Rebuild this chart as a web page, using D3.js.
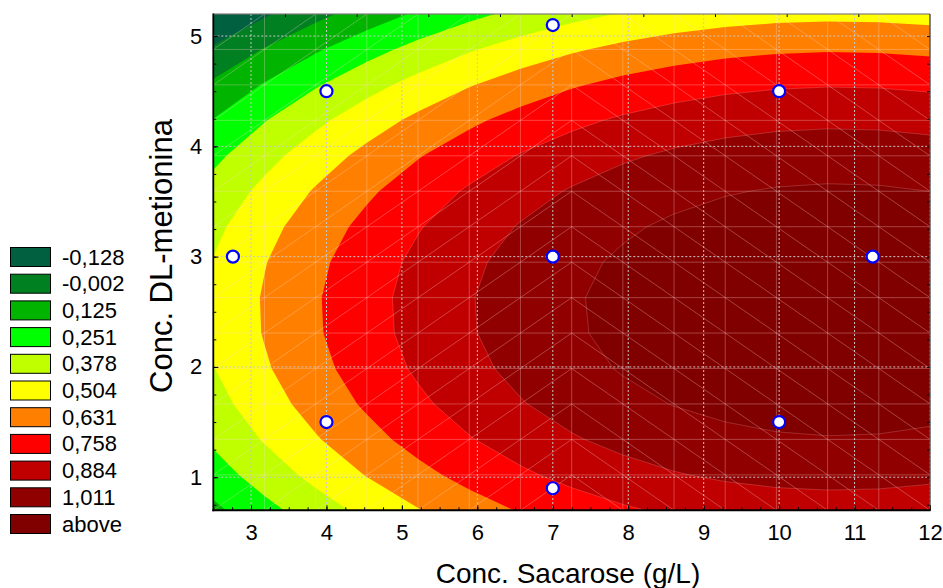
<!DOCTYPE html>
<html><head><meta charset="utf-8">
<script src="https://cdn.jsdelivr.net/npm/d3@7"></script>
<style>
body{margin:0;background:#fff}
text{font-family:"Liberation Sans",Arial,Helvetica,sans-serif;fill:#000}
</style>
</head><body><svg id="chart" width="943" height="588"></svg>
<script>
// ---- data ----
const xDesign = [4, 4, 10, 10, 2.76, 11.24, 7, 7, 7];
const yDesign = [1.5, 4.5, 1.5, 4.5, 3, 3, 0.9, 5.1, 3];
// fitted quadratic response surface: b0, bX, bY, bXX, bYY, bXY
const surfaceCoef = [-0.6921, 0.2305, 0.4627, -0.0107, -0.0918, 0];
const xDomain = [2.5, 12];
const yDomain = [0.7, 5.2];
const meshCount = 15;
const levels = [-0.128, -0.002, 0.125, 0.251, 0.378, 0.504, 0.631, 0.758, 0.884, 1.011];
const legendLabels = ["-0,128","-0,002","0,125","0,251","0,378","0,504","0,631","0,758","0,884","1,011","above"];
const bandColors = ["#006040","#008020","#00b400","#00ff00","#c0ff00","#ffff00","#ff8000","#ff0000","#c00000","#900000","#800000"];
const xTicks = [3, 4, 5, 6, 7, 8, 9, 10, 11, 12];
const yTicks = [1, 2, 3, 4, 5];
const topTicks = [3.45, 4.4, 5.35, 6.3, 7.25, 8.2, 9.15, 10.1, 11.05];
const xTitle = "Conc. Sacarose (g/L)";
const yTitle = "Conc. DL-metionina";

// ---- layout ----
const P = {left: 213.3, right: 930, top: 14, bottom: 510.3};
const svg = d3.select("#chart");
const xs = d3.scaleLinear().domain(xDomain).range([P.left, P.right]);
const ys = d3.scaleLinear().domain(yDomain).range([P.bottom, P.top]);

svg.append("defs").append("clipPath").attr("id", "plotClip")
  .append("rect").attr("x", P.left).attr("y", P.top)
  .attr("width", P.right - P.left).attr("height", P.bottom - P.top);

// ---- surface grid (mesh plus one padding sample on every side) ----
const f = (x, y) => {
  const [b0, bx, by, bxx, byy, bxy] = surfaceCoef;
  return b0 + bx * x + by * y + bxx * x * x + byy * y * y + bxy * x * y;
};
const dx = (xDomain[1] - xDomain[0]) / (meshCount - 1);
const dy = (yDomain[1] - yDomain[0]) / (meshCount - 1);
const n = meshCount + 2;
const values = new Array(n * n);
for (let j = 0; j < n; j++) for (let i = 0; i < n; i++) {
  values[i + j * n] = f(xDomain[0] + (i - 1) * dx, yDomain[0] + (j - 1) * dy);
}
const contours = d3.contours().size([n, n]).thresholds(levels)(values);
const proj = d3.geoTransform({
  point: function(cx, cy) {
    this.stream.point(xs(xDomain[0] + (cx - 1.5) * dx), ys(yDomain[0] + (cy - 1.5) * dy));
  }
});
const path = d3.geoPath(proj);

const plot = svg.append("g").attr("clip-path", "url(#plotClip)");
plot.append("rect").attr("x", P.left).attr("y", P.top)
  .attr("width", P.right - P.left).attr("height", P.bottom - P.top)
  .attr("fill", bandColors[0]);
plot.selectAll("path.band").data(contours).join("path")
  .attr("class", "band")
  .attr("d", path)
  .attr("fill", (d, i) => bandColors[i + 1])
  .attr("stroke", (d, i) => i >= 7 ? "rgba(255,210,210,0.25)" : "none")
  .attr("stroke-width", 0.8);

// ---- mesh lines ----
const meshX = d3.range(meshCount).map(k => xDomain[0] + k * dx);
const meshY = d3.range(meshCount).map(k => yDomain[0] + k * dy);
const mesh = plot.append("g").attr("stroke", "rgba(255,215,215,0.3)").attr("stroke-width", 1).attr("fill", "none");
meshX.forEach(x => mesh.append("line").attr("x1", xs(x)).attr("x2", xs(x)).attr("y1", P.top).attr("y2", P.bottom));
meshY.forEach(y => mesh.append("line").attr("x1", P.left).attr("x2", P.right).attr("y1", ys(y)).attr("y2", ys(y)));
const half = Math.floor(meshCount / 2);
for (let c = 0; c < meshCount - 1; c++) {
  for (let r = 0; r < meshCount - 1; r++) {
    const xa = xs(meshX[c]), xb = xs(meshX[c + 1]);
    const ylo = ys(meshY[r]), yhi = ys(meshY[r + 1]);
    if (c < half) mesh.append("line").attr("x1", xa).attr("y1", ylo).attr("x2", xb).attr("y2", yhi);
    else mesh.append("line").attr("x1", xa).attr("y1", yhi).attr("x2", xb).attr("y2", ylo);
  }
}

// ---- dotted grid ----
const grid = plot.append("g").attr("stroke", "#c8c8c8").attr("stroke-width", 1).attr("stroke-dasharray", "2,2");
xTicks.forEach(x => grid.append("line").attr("x1", xs(x)).attr("x2", xs(x)).attr("y1", P.top).attr("y2", P.bottom));
yTicks.forEach(y => grid.append("line").attr("x1", P.left).attr("x2", P.right).attr("y1", ys(y)).attr("y2", ys(y)));

// ---- axes ----
const minorX = d3.range(xDomain[0], xDomain[1] + 1e-9, 0.25);
const minorY = d3.range(0.75, yDomain[1], 0.25);
function styleAxis(g) {
  g.select(".domain").remove();
  g.selectAll("line").attr("stroke", "#000");
  g.selectAll("text").attr("font-size", 22).attr("font-family", '"Liberation Sans",Arial,sans-serif').attr("fill", "#000");
  g.attr("font-size", null).attr("font-family", null);
}
svg.append("g").attr("transform", `translate(0,${P.bottom})`)
  .call(d3.axisBottom(xs).tickValues(minorX).tickSize(-3).tickFormat("")).call(styleAxis);
svg.append("g").attr("transform", `translate(0,${P.bottom})`)
  .call(d3.axisBottom(xs).tickValues(xTicks).tickSizeInner(-5).tickSizeOuter(0).tickPadding(14).tickFormat(d3.format("d"))).call(styleAxis);
svg.append("g").attr("transform", `translate(${P.left},0)`)
  .call(d3.axisLeft(ys).tickValues(minorY).tickSize(-3).tickFormat("")).call(styleAxis);
svg.append("g").attr("transform", `translate(${P.left},0)`)
  .call(d3.axisLeft(ys).tickValues(yTicks).tickSizeInner(-5).tickSizeOuter(0).tickPadding(11).tickFormat(d3.format("d"))).call(styleAxis);
svg.append("g").attr("transform", `translate(0,${P.top})`)
  .call(d3.axisTop(xs).tickValues(topTicks).tickSize(-3).tickFormat("")).call(styleAxis);
svg.append("g").attr("transform", `translate(${P.right},0)`)
  .call(d3.axisRight(ys).tickValues(minorY).tickSize(-3).tickFormat("")).call(styleAxis);

// frame
svg.append("line").attr("x1", P.left).attr("x2", P.right).attr("y1", P.top).attr("y2", P.top).attr("stroke", "#666").attr("stroke-width", 1.2);
svg.append("line").attr("x1", P.right).attr("x2", P.right).attr("y1", P.top).attr("y2", P.bottom).attr("stroke", "#333").attr("stroke-width", 1.2);
svg.append("line").attr("x1", P.left).attr("x2", P.left).attr("y1", P.top - 0.5).attr("y2", P.bottom + 1).attr("stroke", "#000").attr("stroke-width", 1.8);
svg.append("line").attr("x1", P.left - 1).attr("x2", P.right + 0.5).attr("y1", P.bottom).attr("y2", P.bottom).attr("stroke", "#000").attr("stroke-width", 2);

// ---- design points ----
svg.append("g").selectAll("circle").data(xDesign.map((x, i) => [x, yDesign[i]])).join("circle")
  .attr("cx", d => xs(d[0])).attr("cy", d => ys(d[1])).attr("r", 6)
  .attr("fill", "#fff").attr("stroke", "#0000ff").attr("stroke-width", 2.2);

// ---- titles ----
svg.append("text").attr("x", 568).attr("y", 583).attr("text-anchor", "middle")
  .attr("font-size", 28).text(xTitle);
svg.append("text").attr("transform", "translate(172,256) rotate(-90)").attr("text-anchor", "middle")
  .attr("font-size", 31).text(yTitle);

// ---- legend ----
const leg = svg.append("g");
const legItems = leg.selectAll("g").data(legendLabels).join("g")
  .attr("transform", (d, i) => `translate(0,${247 + i * 26.7})`);
legItems.append("rect").attr("x", 10.5).attr("y", 0.5).attr("width", 40).attr("height", 19)
  .attr("fill", (d, i) => bandColors[i]).attr("stroke", "#000").attr("stroke-width", 1);
legItems.append("text").attr("x", 62).attr("y", 17.5).attr("font-size", 22).text(d => d);
</script>
</body></html>
